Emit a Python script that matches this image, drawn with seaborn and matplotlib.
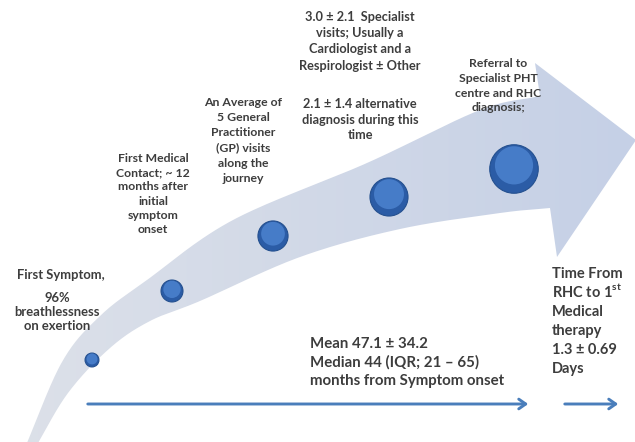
import numpy as np
import seaborn as sns
import matplotlib.pyplot as plt
from matplotlib.path import Path
from matplotlib.patches import PathPatch
from matplotlib.colors import to_rgb

# stages along the patient journey
stage_x = [92, 172, 273, 389, 514]
stage_y = [360, 291, 236, 197, 169]
stage_rank = [1, 2, 3, 4, 5]

label_symptom = "First Symptom,"
label_symptom2 = "96%\nbreathlessness\non exertion"
label_contact = "First Medical\nContact; ~ 12\nmonths after\ninitial\nsymptom\nonset"
label_gp = "An Average of\n5 General\nPractitioner\n(GP) visits\nalong the\njourney"
label_spec = "3.0 \u00b1 2.1  Specialist\nvisits; Usually a\nCardiologist and a\nRespirologist \u00b1 Other"
label_alt = "2.1 \u00b1 1.4 alternative\ndiagnosis during this\ntime"
label_referral = "Referral to\nSpecialist PHT\ncentre and RHC\ndiagnosis;"
label_therapy = "Time From\nRHC to 1$^{\\mathrm{st}}$\nMedical\ntherapy\n1.3 \u00b1 0.69\nDays"
label_total = "Mean 47.1 \u00b1 34.2\nMedian 44 (IQR; 21 \u2013 65)\nmonths from Symptom onset"

sns.set_style("white")
plt.rcParams['font.family'] = ['Lato', 'DejaVu Sans']
plt.rcParams['mathtext.fontset'] = 'custom'
plt.rcParams['mathtext.rm'] = 'Lato:bold'
plt.rcParams['mathtext.bf'] = 'Lato:bold'

TXT = '#3d3d3d'


def catmull(pts, n=30):
    pts = np.asarray(pts, float)
    p = np.vstack([2 * pts[0] - pts[1], pts, 2 * pts[-1] - pts[-2]])
    out = []
    for i in range(1, len(p) - 2):
        p0, p1, p2, p3 = p[i - 1], p[i], p[i + 1], p[i + 2]
        t = np.linspace(0, 1, n, endpoint=False)[:, None]
        out.append(0.5 * ((2 * p1) + (-p0 + p2) * t + (2 * p0 - 5 * p1 + 4 * p2 - p3) * t ** 2
                          + (-p0 + 3 * p1 - 3 * p2 + p3) * t ** 3))
    out.append(pts[-1:])
    return np.vstack(out)


def lines(ax, x, y0, text, step, size, ha='center'):
    # one text per line so the spacing is fixed
    for i, s in enumerate(text.split('\n')):
        ax.text(x, y0 + i * step, s, fontsize=size, fontweight='bold', color=TXT,
                ha=ha, va='baseline')


fig = plt.figure(figsize=(6.35, 4.42), dpi=100)
ax = fig.add_axes([0, 0, 1, 1])

# curved arrow outline
upper = catmull([(24, 450), (62, 362), (100, 316), (147, 280), (233, 220), (367, 163),
                 (480, 110), (540, 96)])
lower = catmull([(34, 450), (68, 393), (110, 348), (150, 321), (200, 301), (300, 257),
                 (400, 229), (500, 213), (550, 208)])
head = np.array([(535, 63), (636, 140), (557, 257)])
verts = np.vstack([upper, head, lower[::-1], upper[:1]])
patch = PathPatch(Path(verts), facecolor='none', edgecolor='none')
ax.add_patch(patch)

c0, c1 = np.array(to_rgb('#dde1e9')), np.array(to_rgb('#c5d0e6'))
g = np.linspace(0, 1, 300)[:, None]
grad = (c0 * (1 - g) + c1 * g)[None, :, :]
im = ax.imshow(grad, extent=[0, 635, 442, 0], aspect='auto', zorder=1)
im.set_clip_path(patch)

# milestone circles
size_map = {1: 100, 2: 250, 3: 470, 4: 750, 5: 1220}
sns.scatterplot(x=stage_x, y=stage_y, size=stage_rank, sizes=size_map, color='#2b5ca6',
                edgecolor='#24508f', linewidth=0.8, legend=False, ax=ax, zorder=3)
hl_sizes = {k: v * 0.62 for k, v in size_map.items()}
rad = [np.sqrt(size_map[r]) / 1.44 for r in stage_rank]
sns.scatterplot(x=stage_x, y=[y - 0.15 * r for y, r in zip(stage_y, rad)], size=stage_rank,
                sizes=hl_sizes, color='#4a80cc', linewidth=0, alpha=0.9, legend=False, ax=ax, zorder=4)

# timeline arrows
ax.annotate('', xy=(531, 404), xytext=(85, 404),
            arrowprops=dict(arrowstyle='->,head_length=0.5,head_width=0.35', color='#4a7ebb', lw=2.1))
ax.annotate('', xy=(621, 404), xytext=(562, 404),
            arrowprops=dict(arrowstyle='->,head_length=0.5,head_width=0.35', color='#4a7ebb', lw=2.1))

lines(ax, 61, 279, label_symptom, 14, 9.4)
lines(ax, 57, 302, label_symptom2, 14.2, 9.4)
lines(ax, 153, 162, label_contact, 14.2, 8.8)
lines(ax, 243, 106, label_gp, 15.2, 8.8)
lines(ax, 360, 21, label_spec, 16.2, 9.2)
lines(ax, 360, 108, label_alt, 15.5, 9.2)
lines(ax, 498, 67, label_referral, 14.8, 8.8)
lines(ax, 552, 278, label_therapy, 19, 10.5, ha='left')
lines(ax, 310, 348, label_total, 18.6, 10.8, ha='left')

ax.set_xlim(0, 635)
ax.set_ylim(442, 0)
ax.axis('off')

fig.savefig('out.png', dpi=100)
